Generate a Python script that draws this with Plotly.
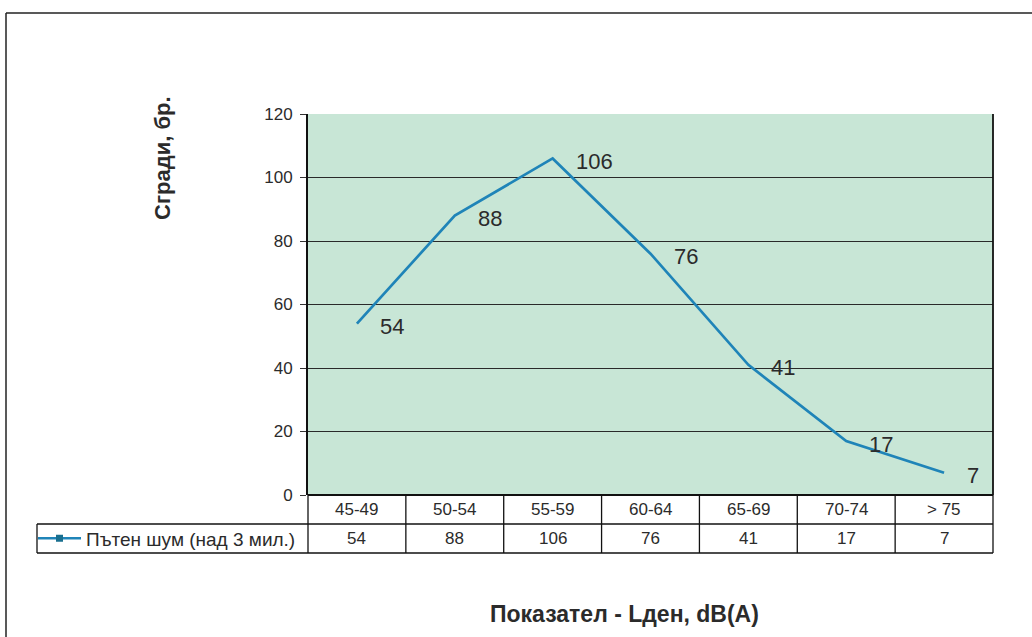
import plotly.graph_objects as go

# ---- data ----
categories = ["45-49", "50-54", "55-59", "60-64", "65-69", "70-74", "> 75"]
values = [54, 88, 106, 76, 41, 17, 7]
series_name = "Пътен шум (над 3 мил.)"
y_title = "Сгради, бр."
x_title = "Показател - Lден, dB(A)"
y_ticks = [0, 20, 40, 60, 80, 100, 120]

# ---- layout geometry ----
W, H = 1032, 637
L, R, T, B = 308, 39, 114, 142
pw = W - L - R
ph = H - T - B
FONT = "Arial, Liberation Sans, sans-serif"
LINE = "#1f84b8"
BG = "#c8e6d6"
TXT = "#2b2b2b"


def px_x(px):
    return (px - L) / pw


def px_y(py):
    return (H - B - py) / ph


fig = go.Figure()
fig.add_trace(go.Scatter(
    x=categories, y=values, mode="lines",
    line=dict(color=LINE, width=2.7),
    showlegend=False, cliponaxis=False, hoverinfo="x+y",
))
# legend key (line with square marker)
fig.add_trace(go.Scatter(
    x=[None], y=[None], mode="lines+markers", name=series_name,
    line=dict(color=LINE, width=2.5),
    marker=dict(symbol="square", size=7, color="#1a6f8f"),
))

annotations = []
# data labels
for c, v in zip(categories, values):
    annotations.append(dict(
        x=c, y=v, xref="x", yref="y", text=str(v), showarrow=False,
        xanchor="left", yanchor="middle", xshift=21, yshift=-3,
        font=dict(family=FONT, size=22, color=TXT),
    ))

# table rows
row1_mid = px_y(509.5)
row2_mid = px_y(538.5)
for c, v in zip(categories, values):
    annotations.append(dict(
        x=c, y=row1_mid, xref="x", yref="paper", text=c, showarrow=False,
        xanchor="center", yanchor="middle",
        font=dict(family=FONT, size=17, color=TXT),
    ))
    annotations.append(dict(
        x=c, y=row2_mid, xref="x", yref="paper", text=str(v), showarrow=False,
        xanchor="center", yanchor="middle",
        font=dict(family=FONT, size=17, color=TXT),
    ))

# axis titles
annotations.append(dict(
    x=px_x(162), y=px_y(158), xref="paper", yref="paper", text=y_title,
    showarrow=False, textangle=-90, xanchor="center", yanchor="middle",
    font=dict(family=FONT, size=22, color=TXT, weight="bold"),
))
annotations.append(dict(
    x=px_x(624), y=px_y(614), xref="paper", yref="paper", text=x_title,
    showarrow=False, xanchor="center", yanchor="middle",
    font=dict(family=FONT, size=23, color=TXT, weight="bold"),
))

shapes = []
lk = dict(color="#111111", width=1.3)
n = len(categories)
y_r1 = px_y(524)
y_r2 = px_y(553)
# table horizontal lines
shapes.append(dict(type="line", xref="paper", yref="paper", x0=px_x(37), x1=1, y0=y_r1, y1=y_r1, line=lk))
shapes.append(dict(type="line", xref="paper", yref="paper", x0=px_x(37), x1=1, y0=y_r2, y1=y_r2, line=lk))
# table vertical lines
for k in range(n + 1):
    shapes.append(dict(type="line", xref="paper", yref="paper", x0=k / n, x1=k / n, y0=0, y1=y_r2, line=lk))
shapes.append(dict(type="line", xref="paper", yref="paper", x0=px_x(37), x1=px_x(37), y0=y_r1, y1=y_r2, line=lk))
# plot area right border
shapes.append(dict(type="line", xref="paper", yref="paper", x0=1, x1=1, y0=0, y1=1, line=dict(color="#111111", width=1.8)))
# outer frame (left + top)
shapes.append(dict(type="line", xref="paper", yref="paper", x0=px_x(6), x1=px_x(6), y0=px_y(13), y1=px_y(640), line=dict(color="#222222", width=1.5)))
shapes.append(dict(type="line", xref="paper", yref="paper", x0=px_x(6), x1=px_x(1032), y0=px_y(13), y1=px_y(13), line=dict(color="#222222", width=1.5)))

fig.update_layout(
    width=W, height=H,
    margin=dict(l=L, r=R, t=T, b=B),
    paper_bgcolor="white", plot_bgcolor=BG,
    font=dict(family=FONT, color=TXT),
    showlegend=True,
    legend=dict(
        x=px_x(33), y=row2_mid, xref="paper", yref="paper",
        xanchor="left", yanchor="middle",
        bgcolor="rgba(0,0,0,0)", itemwidth=43,
        font=dict(family=FONT, size=19, color=TXT),
        tracegroupgap=0,
    ),
    xaxis=dict(
        type="category", range=[-0.5, n - 0.5],
        showticklabels=False, showgrid=False, zeroline=False,
        ticks="", showline=False, fixedrange=True,
    ),
    yaxis=dict(
        range=[0, 120], tickvals=y_ticks,
        showgrid=True, gridcolor="#2a2a2a", gridwidth=1,
        zeroline=True, zerolinecolor="#111111", zerolinewidth=1.5,
        showline=True, linecolor="#111111", linewidth=2,
        ticks="outside", ticklen=6, tickcolor="#333333",
        tickfont=dict(family=FONT, size=17, color=TXT),
        ticklabelstandoff=4,
    ),
    annotations=annotations,
    shapes=shapes,
)

fig.write_html(
    "out.html",
    config={"displayModeBar": False},
    post_script="document.body.style.margin='0';document.body.style.overflow='hidden';",
)
